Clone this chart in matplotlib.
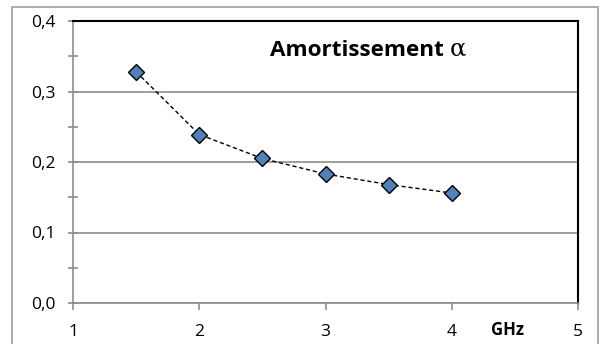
import matplotlib
matplotlib.use("Agg")
import matplotlib.pyplot as plt
from matplotlib.patches import Rectangle
from matplotlib.ticker import MultipleLocator, FuncFormatter

plt.rcParams["font.family"] = ["Open Sans", "DejaVu Sans"]

# attenuation vs frequency
freq_ghz = [1.5, 2.0, 2.5, 3.0, 3.5, 4.0]
alpha = [0.328, 0.239, 0.205, 0.183, 0.168, 0.156]
x_ticks = [1, 2, 3, 4, 5]
y_ticks = [0.0, 0.1, 0.2, 0.3, 0.4]

GRID = "#8c8c8c"

fig = plt.figure(figsize=(6.0, 3.44), dpi=100)
ax = fig.add_axes([73 / 600, 1 - 303 / 344, (578 - 73) / 600, (303 - 21) / 344])

# outer chart frame
fig.add_artist(Rectangle((12 / 600, -0.01), (598 - 12) / 600, 1 - 7 / 344 + 0.01,
                         transform=fig.transFigure, fill=False, ec="#a0a0a0", lw=1.2))

ax.plot(freq_ghz, alpha, ls=(0, (3, 2)), color="black", lw=1.0, marker="D",
        ms=7.8, mfc="#4F81BD", mec="black", mew=1.0, zorder=3)

ax.set_xlim(1, 5)
ax.set_ylim(0, 0.4)
ax.set_xticks(x_ticks)
ax.set_yticks(y_ticks)
ax.yaxis.set_minor_locator(MultipleLocator(0.05))
ax.yaxis.set_major_formatter(FuncFormatter(lambda v, p: f"{v:.1f}".replace(".", ",")))
ax.grid(axis="y", which="major", color=GRID, lw=1.2)
ax.set_axisbelow(True)

for s in ("left", "bottom"):
    ax.spines[s].set_color(GRID)
    ax.spines[s].set_linewidth(1.2)
for s in ("top", "right"):
    ax.spines[s].set_color("black")
    ax.spines[s].set_linewidth(1.5)

ax.tick_params(axis="y", which="both", direction="inout", length=7, color=GRID,
               width=1.2, labelsize=12.5, pad=9)
ax.tick_params(axis="x", direction="out", length=5, color=GRID, width=1.2,
               labelsize=12.5, pad=10)

ax.text(0.391, 0.897, "Amortissement", transform=ax.transAxes, fontsize=16.2,
        fontweight="bold", ha="left", va="center")
ax.text(0.746, 0.90, "α", transform=ax.transAxes, fontsize=17.5,
        family="DejaVu Serif", ha="left", va="center")
ax.text(4.44, -0.039, "GHz", fontsize=12, fontweight="bold", ha="center", va="center")

fig.savefig("out.png", dpi=100)
